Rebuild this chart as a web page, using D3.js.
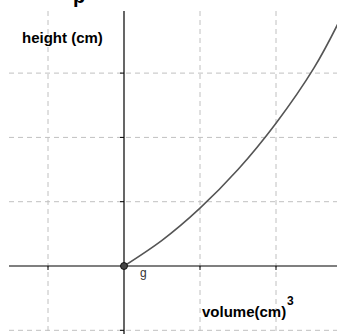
<!DOCTYPE html>
<html><head><meta charset="utf-8">
<script src="https://cdn.jsdelivr.net/npm/d3@7"></script>
<style>body{margin:0;background:#fff}svg{display:block}</style>
</head><body>
<script>
// data (units)
const volume = [0, 0.5, 1.0, 1.5, 2.0, 2.5, 2.85];
const height = [0, 0.40, 0.90, 1.50, 2.22, 3.08, 3.85];
const xGrid = [-1, 1, 2];
const yGrid = [-1, 1, 2, 3];
const xLabel = "volume(cm)";
const xLabelSup = "3";
const yLabel = "height (cm)";
const pointLabel = "g";
const titleText = "p";

const W = 337, H = 334;
const svg = d3.select("body").append("svg").attr("width", W).attr("height", H);
const x = d3.scaleLinear().domain([0, 1]).range([124, 200]);
const y = d3.scaleLinear().domain([0, 1]).range([266, 201.7]);
const plotLeft = 9, plotTop = 11;

svg.append("defs").append("clipPath").attr("id", "c")
  .append("rect").attr("x", 0).attr("y", 0).attr("width", W).attr("height", H);

const g = svg.append("g").attr("clip-path", "url(#c)");

// grid
g.selectAll(".vg").data(xGrid).join("line")
  .attr("x1", d => x(d)).attr("x2", d => x(d)).attr("y1", plotTop).attr("y2", H)
  .attr("stroke", "#c0c0c0").attr("stroke-dasharray", "5,4").attr("stroke-width", 1);
g.selectAll(".hg").data(yGrid).join("line")
  .attr("y1", d => y(d)).attr("y2", d => y(d)).attr("x1", plotLeft).attr("x2", W)
  .attr("stroke", "#c0c0c0").attr("stroke-dasharray", "5,4").attr("stroke-width", 1);

// axes
g.append("line").attr("x1", plotLeft).attr("x2", W).attr("y1", y(0)).attr("y2", y(0))
  .attr("stroke", "#000").attr("stroke-width", 1.2);
g.append("line").attr("x1", x(0)).attr("x2", x(0)).attr("y1", plotTop).attr("y2", H)
  .attr("stroke", "#000").attr("stroke-width", 1.2);
g.selectAll(".xt").data(xGrid).join("line")
  .attr("x1", d => x(d)).attr("x2", d => x(d)).attr("y1", y(0)).attr("y2", y(0) + 4)
  .attr("stroke", "#000");
g.selectAll(".yt").data(yGrid).join("line")
  .attr("y1", d => y(d)).attr("y2", d => y(d)).attr("x1", x(0) - 4).attr("x2", x(0))
  .attr("stroke", "#000");

// curve
const pts = volume.map((v, i) => [v, height[i]]);
g.append("path").datum(pts)
  .attr("d", d3.line().x(d => x(d[0])).y(d => y(d[1])).curve(d3.curveNatural))
  .attr("fill", "none").attr("stroke", "#555").attr("stroke-width", 1.6);

// point
g.append("circle").attr("cx", x(0)).attr("cy", y(0)).attr("r", 3.5)
  .attr("fill", "#444").attr("stroke", "#000").attr("stroke-width", 0.8);

const font = "'Liberation Sans', Arial, sans-serif";
svg.append("text").attr("x", 140).attr("y", 277).text(pointLabel)
  .attr("font-family", font).attr("font-size", 12).attr("fill", "#333");
svg.append("text").attr("x", 22).attr("y", 43).text(yLabel)
  .attr("font-family", font).attr("font-size", 15).attr("font-weight", "bold").attr("fill", "#000");
svg.append("text").attr("x", 202).attr("y", 317).text(xLabel)
  .attr("font-family", font).attr("font-size", 15).attr("font-weight", "bold").attr("fill", "#000");
svg.append("text").attr("x", 287).attr("y", 305).text(xLabelSup)
  .attr("font-family", font).attr("font-size", 12).attr("font-weight", "bold").attr("fill", "#000");
svg.append("text").attr("x", 73).attr("y", 3).text(titleText)
  .attr("font-family", font).attr("font-size", 20).attr("font-weight", "bold").attr("fill", "#000");
</script>
</body></html>
